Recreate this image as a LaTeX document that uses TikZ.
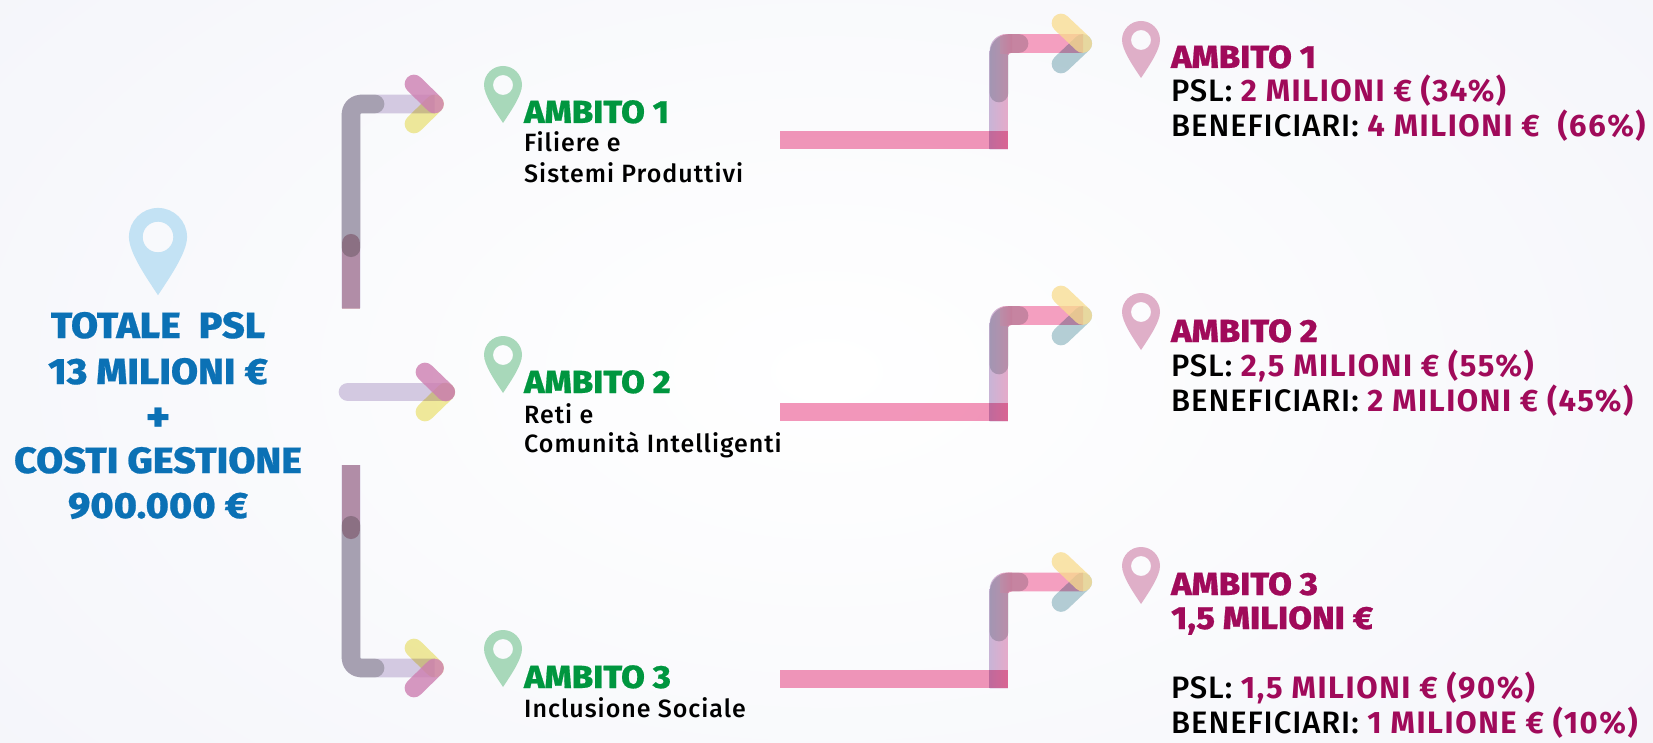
\documentclass[tikz,border=0pt]{standalone}
\usepackage{fontspec}
\usetikzlibrary{calc}
\setmainfont{Fira Sans}
\newfontfamily\heavyf{Fira Sans ExtraBold}[FakeBold=0.6,FakeStretch=1.07,LetterSpace=0.5]
\newfontfamily\valuef{Fira Sans}[UprightFont=*,BoldFont=* Bold]
\newfontfamily\labelf{Fira Sans Medium}[LetterSpace=4]
\newfontfamily\bodyf{Fira Sans Medium}[LetterSpace=3]
\definecolor{bgedge}{HTML}{F4F5FA}
\definecolor{totblue}{HTML}{0B71B5}
\definecolor{ambgreen}{HTML}{00963F}
\definecolor{ambmag}{HTML}{A00A5A}
\definecolor{pinblue}{HTML}{C3E2F4}
\definecolor{pingreen}{HTML}{A8D8BA}
\definecolor{pinpink}{HTML}{DFAFC8}
\definecolor{lilacbar}{HTML}{D3C9E1}
\definecolor{greymul}{HTML}{C9CBC9}
\definecolor{purplemul}{HTML}{D6B3BE}
\definecolor{arrowpink}{HTML}{CD7FB1}
\definecolor{arrowyellow}{HTML}{F3EC9C}
\definecolor{barpink}{HTML}{F397BA}
\definecolor{elbowa}{HTML}{C9B4D6}
\definecolor{elbowb}{HTML}{E6AAC9}
\definecolor{darkmul}{HTML}{CFD5D6}
\definecolor{tipsand}{HTML}{F9DC8E}
\definecolor{tipteal}{HTML}{B6D0D6}
\tikzset{
  mult/.style={blend mode=multiply},
  stroke/.style={line width=18.7pt,line cap=butt,line join=round},
  rstroke/.style={stroke,line cap=round},
  pics/pin/.style={code={
    \fill[#1,even odd rule] (0,38) .. controls (-8,26) and (-19,10) .. (-19,0)
      .. controls (-19,-10.5) and (-10.5,-19) .. (0,-19)
      .. controls (10.5,-19) and (19,-10.5) .. (19,0)
      .. controls (19,10) and (8,26) .. (0,38) -- cycle
      (0,0) circle[radius=10];
  }},
  totaltext/.style={anchor=base,text=totblue,font=\heavyf\fontsize{36.5}{37}\selectfont,inner sep=0pt},
  headg/.style={anchor=base west,text=ambgreen,font=\heavyf\fontsize{32}{32}\selectfont,inner sep=0pt},
  headm/.style={anchor=base west,text=ambmag,font=\heavyf\fontsize{32}{32}\selectfont,inner sep=0pt},
  sublabel/.style={anchor=base west,text=black,font=\labelf\fontsize{25}{25}\selectfont,inner sep=0pt},
  bodyline/.style={anchor=base west,text=black,font=\bodyf\fontsize{31}{31}\selectfont,inner sep=0pt},
}
% left connector: #1 id, #2 arrow y, #3 start y, #4 grey end y, #5 purple end y, #6 side of the pink tip (+1 above, -1 below)
\newcommand{\leftconn}[6]{
  \coordinate (#1s) at (351,#3);
  \coordinate (#1b) at (351,#2);
  \coordinate (#1g) at (351,#4);
  \coordinate (#1p) at (351,#5);
  \coordinate (#1e) at (375,#2);
  \coordinate (#1t) at (434.5,#2);
  \coordinate (#1a) at (414,#2-#6*20);
  \coordinate (#1c) at (414,#2+#6*20);
  \coordinate (#1x) at ($(#1s)!-20pt!(#1p)$);
  \draw[stroke,lilacbar,rounded corners=10pt] (#1s) -- (#1b) -- (#1t);
  \draw[rstroke,greymul,mult,rounded corners=10pt] (#1g) -- (#1b) -- (#1e);
  \begin{scope}
    \clip (332,#3) rectangle (370,2*#5-#3);
    \draw[rstroke,purplemul,mult] (#1x) -- (#1p);
  \end{scope}
  \draw[rstroke,arrowyellow,mult] (#1c) -- (#1t);
  \draw[rstroke,arrowpink,opacity=.8] (#1a) -- (#1t);
}
% right connector: #1 id, #2 arrow y, #3 bar y
\newcommand{\rightconn}[3]{
  \coordinate (#1l) at (780,#3);
  \coordinate (#1m) at (1008.3,#3);
  \coordinate (#1g) at (999,#3-47);
  \coordinate (#1b) at (999,#2);
  \coordinate (#1e) at (1019,#2);
  \coordinate (#1t) at (1082.7,#2);
  \coordinate (#1a) at (1061,#2-20.5);
  \coordinate (#1c) at (1061,#2+20.5);
  \begin{scope}
    \clip (989.65,#3+9.35) -- (989.65,#2+7.65)
      .. controls (989.65,#2-2) and (997,#2-9.35) .. (1006.65,#2-9.35)
      -- (1083,#2-9.35) -- (1083,#2+9.35) -- (1011.35,#2+9.35)
      .. controls (1009.7,#2+9.35) and (1008.35,#2+10.7) .. (1008.35,#2+12.35)
      -- (1008.35,#3+9.35) -- cycle;
    \shade[left color=elbowa,right color=elbowb] (989.65,#2-10) rectangle (1008.35,#3+10);
    \fill[barpink!92!white] (1008.35,#2-10) rectangle (1084,#2+10);
    \shade[left color=elbowb,right color=barpink] (1000,#2-10) rectangle (1012,#2+10);
  \end{scope}
  \draw[rstroke,darkmul,mult,rounded corners=10pt] (#1g) -- (#1b) -- (#1e);
  \draw[stroke,barpink,mult] (#1l) -- (#1m);
  \draw[rstroke,tipteal,mult] (#1c) -- (#1t);
  \draw[rstroke,tipsand,opacity=.75] (#1a) -- (#1t);
}
\begin{document}
\begin{tikzpicture}[x=1pt,y=-1pt]
\useasboundingbox (0,0) rectangle (1653,743);
\shade[inner color=white,outer color=bgedge] (-300,-300) rectangle (1953,1043);

% left tree
\leftconn{la}{104}{308}{247.7}{243.3}{1}
\leftconn{lc}{668}{465}{525.3}{529.7}{-1}
\coordinate (lbs) at (348,392);
\coordinate (lbt) at (445.7,392);
\coordinate (lba) at (425,372);
\coordinate (lbc) at (425,412);
\draw[rstroke,lilacbar] (lbs) -- (lbt);
\draw[rstroke,arrowyellow,mult] (lbc) -- (lbt);
\draw[rstroke,arrowpink,opacity=.8] (lba) -- (lbt);

% right connectors
\rightconn{ra}{43.5}{140}
\rightconn{rb}{315.5}{412}
\rightconn{rc}{582}{679}

% pins
\pic[scale=1.53] (pt) at (158,237) {pin=pinblue};
\pic (pg1) at (503,85) {pin=pingreen};
\pic (pg2) at (503,355) {pin=pingreen};
\pic (pg3) at (503,649) {pin=pingreen};
\pic (pm1) at (1141,40) {pin=pinpink};
\pic (pm2) at (1141,312) {pin=pinpink};
\pic (pm3) at (1141,566) {pin=pinpink};

% total text
\node[totaltext] (t1) at (158,338) {TOTALE~~PSL};
\node[totaltext] (t2) at (158,384) {13 MILIONI €};
\node[totaltext,font=\heavyf\fontsize{42}{42}\selectfont] (t3) at (158,431) {+};
\node[totaltext] (t4) at (158,473) {COSTI GESTIONE};
\node[totaltext] (t5) at (158,518) {900.000 €};

% left labels
\node[headg] (a1) at (524,123) {AMBITO 1};
\node[sublabel] (a1a) at (524,152) {Filiere e};
\node[sublabel] (a1b) at (524,183) {Sistemi Produttivi};
\node[headg] (a2) at (524,393) {AMBITO 2};
\node[sublabel] (a2a) at (524,423) {Reti e};
\node[sublabel] (a2b) at (524,452) {Comunità Intelligenti};
\node[headg] (a3) at (524,688) {AMBITO 3};
\node[sublabel] (a3a) at (524,717) {Inclusione Sociale};

% right labels
\newcommand{\valtxt}[1]{\textcolor{ambmag}{\valuef\bfseries\addfontfeatures{LetterSpace=5}#1}}
\node[headm] (b1) at (1171,68) {AMBITO 1};
\node[bodyline] (b1a) at (1171,102) {PSL: \valtxt{2 MILIONI € (34\%)}};
\node[bodyline] (b1b) at (1171,137) {BENEFICIARI: \valtxt{4 MILIONI €~~(66\%)}};
\node[headm] (b2) at (1171,342) {AMBITO 2};
\node[bodyline] (b2a) at (1171,376) {PSL: \valtxt{2,5 MILIONI € (55\%)}};
\node[bodyline] (b2b) at (1171,411) {BENEFICIARI: \valtxt{2 MILIONI € (45\%)}};
\node[headm] (b3) at (1171,595) {AMBITO 3};
\node[headm] (b3x) at (1171,629) {1,5 MILIONI €};
\node[bodyline] (b3a) at (1171,698) {PSL: \valtxt{1,5 MILIONI € (90\%)}};
\node[bodyline] (b3b) at (1171,733) {BENEFICIARI: \valtxt{1 MILIONE € (10\%)}};
\end{tikzpicture}
\end{document}
